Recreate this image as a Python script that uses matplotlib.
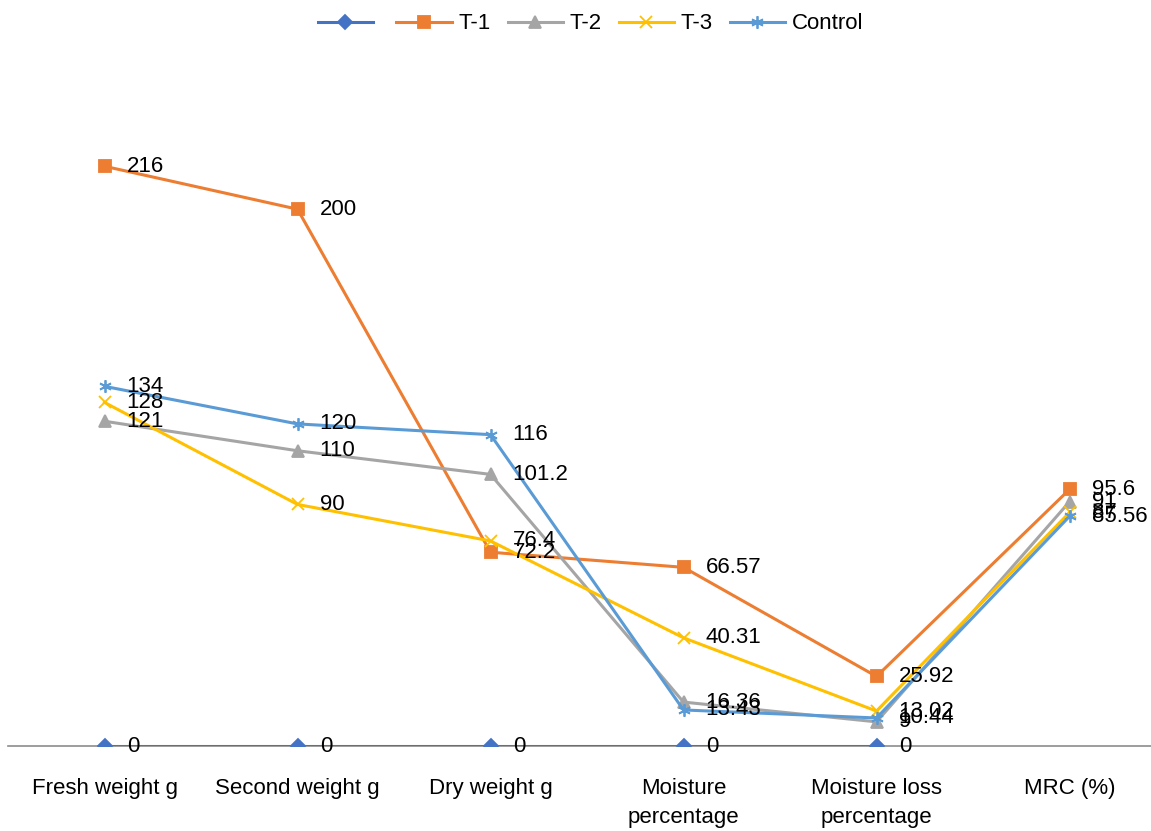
import numpy as np
import matplotlib
matplotlib.use("Agg")
from matplotlib import pyplot as plt

plt.rcParams['font.family'] = ['Liberation Sans', 'DejaVu Sans']

categories = ['Fresh weight g', 'Second weight g', 'Dry weight g',
              'Moisture\npercentage', 'Moisture loss\npercentage', 'MRC (%)']

base = [0, 0, 0, 0, 0, np.nan]
t1 = [216, 200, 72.2, 66.57, 25.92, 95.6]
t2 = [121, 110, 101.2, 16.36, 9, 91]
t3 = [128, 90, 76.4, 40.31, 13.02, 87]
control = [134, 120, 116, 13.43, 10.44, 85.56]

series = [
    ('', base, '#4472C4', 'D', 7),
    ('T-1', t1, '#ED7D31', 's', 8),
    ('T-2', t2, '#A5A5A5', '^', 8),
    ('T-3', t3, '#FFC000', 'x', 8),
    ('Control', control, '#5B9BD5', (6, 2, 0), 9),
]

fig = plt.figure(figsize=(11.51, 8.31), dpi=100)
ax = fig.add_axes([8 / 1151, 85 / 831, 1158 / 1151, 671 / 831])
x = np.arange(len(categories))

handles = []
for name, vals, col, mk, ms in series:
    ln, = ax.plot(x, vals, color=col, lw=2.2, marker=mk, markersize=ms,
                  markeredgewidth=1.3, zorder=3)
    handles.append(ln)
    # value labels to the right of each point
    for xi, v in zip(x, vals):
        if np.isnan(v):
            continue
        ax.annotate(f'{v:g}', (xi, v), xytext=(16, 0), textcoords='offset points',
                    ha='left', va='center', fontsize=16, color='black', zorder=5)

ax.set_xlim(-0.5, 5.5)
ax.set_ylim(0, 250)
ax.set_xticks(x)
ax.set_xticklabels(categories, fontsize=16, linespacing=1.5, va='top')
ax.tick_params(axis='x', length=0, pad=23)
ax.set_yticks([])
for s in ['top', 'right', 'left']:
    ax.spines[s].set_visible(False)
ax.spines['bottom'].set_color('#8C8C8C')
ax.spines['bottom'].set_linewidth(1.2)
ax.spines['bottom'].set_zorder(1)

fig.legend(handles, [s[0] for s in series], loc='upper center',
           bbox_to_anchor=(0.513, 1.008), ncol=5, frameon=False, fontsize=16,
           handlelength=2.5, handletextpad=0.3, columnspacing=0.75)

fig.savefig('out.png', dpi=100)
